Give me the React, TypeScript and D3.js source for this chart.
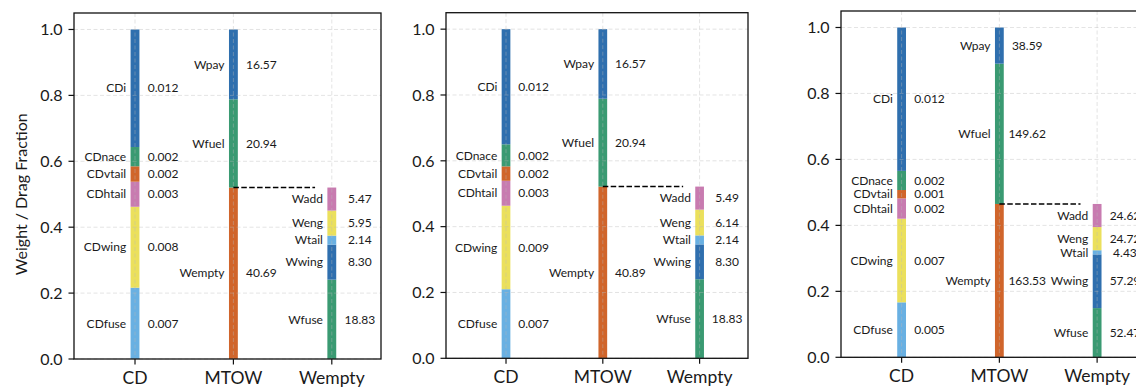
import * as d3 from "d3";

// categories on the x axis
const categories = ["CD", "MTOW", "Wempty"];
const yTicks = [0, 0.2, 0.4, 0.6, 0.8, 1.0];

// component names, bottom to top
const cdNames = ["CDfuse", "CDwing", "CDhtail", "CDvtail", "CDnace", "CDi"];
const mtowNames = ["Wempty", "Wfuel", "Wpay"];
const emptyNames = ["Wfuse", "Wwing", "Wtail", "Weng", "Wadd"];

// panel 1
const cdA = [0.0074, 0.0084, 0.0026, 0.0016, 0.002, 0.0122];
const mtowA = [40.69, 20.94, 16.57];
const emptyA = [18.83, 8.3, 2.14, 5.95, 5.47];
// panel 2
const cdB = [0.0072, 0.0087, 0.0026, 0.0015, 0.0023, 0.012];
const mtowB = [40.89, 20.94, 16.57];
const emptyB = [18.83, 8.3, 2.14, 6.14, 5.49];
// panel 3
const cdC = [0.0046, 0.007, 0.0017, 0.0007, 0.0016, 0.012];
const mtowC = [163.53, 149.62, 38.59];
const emptyC = [52.47, 57.29, 4.43, 24.72, 24.62];

const blue = "#2f6fae";
const green = "#3a9a72";
const orange = "#d0652b";
const pink = "#c87bb0";
const yellow = "#ebe05c";
const light = "#69b0e2";
const cdColors = [light, yellow, pink, orange, green, blue];
const mtowColors = [orange, green, blue];
const emptyColors = [green, blue, light, yellow, pink];

const FONT = "Lato, 'DejaVu Sans', sans-serif";

const panels = [
  { box: { l: 74, r: 381, t: 13, b: 359 }, cd: cdA, mtow: mtowA, empty: emptyA, ylabel: true },
  { box: { l: 446, r: 748, t: 12.7, b: 358.3 }, cd: cdB, mtow: mtowB, empty: emptyB, ylabel: false },
  { box: { l: 841, r: 1146, t: 11, b: 357.3 }, cd: cdC, mtow: mtowC, empty: emptyC, ylabel: false },
];

function segments(values: number[], total: number) {
  const ends = Array.from(d3.cumsum(values));
  return values.map((v, i) => ({ v, y0: (ends[i] - v) / total, y1: ends[i] / total }));
}

function Panel({ p }: { p: (typeof panels)[number] }) {
  const { l, r, t, b } = p.box;
  const x = d3.scaleLinear().domain([-0.62, 2.5]).range([l, r]);
  const y = d3.scaleLinear().domain([0, 1.05]).range([b, t]);
  const bw = x(0.09) - x(0);
  const mtowTotal = d3.sum(p.mtow);

  const stacks = [
    { names: cdNames, colors: cdColors, segs: segments(p.cd, d3.sum(p.cd)), fmt: d3.format(".3f") },
    { names: mtowNames, colors: mtowColors, segs: segments(p.mtow, mtowTotal), fmt: d3.format(".2f") },
    { names: emptyNames, colors: emptyColors, segs: segments(p.empty, mtowTotal), fmt: d3.format(".2f") },
  ];
  const emptyTop = d3.sum(p.empty) / mtowTotal;

  return (
    <g>
      {stacks.map((s, ci) =>
        s.segs.map((sg, k) => (
          <rect
            key={`${ci}-${k}`}
            x={x(ci) - bw / 2}
            width={bw}
            y={y(sg.y1)}
            height={y(sg.y0) - y(sg.y1)}
            fill={s.colors[k]}
          />
        ))
      )}
      {/* grid */}
      {categories.map((_, i) => (
        <line key={"gx" + i} x1={x(i)} x2={x(i)} y1={t} y2={b} stroke="#b8b8b8" strokeOpacity={0.5} strokeWidth={0.8} strokeDasharray="4,2.5" />
      ))}
      {yTicks.map((v) => (
        <line key={"gy" + v} x1={l} x2={r} y1={y(v)} y2={y(v)} stroke="#b8b8b8" strokeOpacity={0.5} strokeWidth={0.8} strokeDasharray="4,2.5" />
      ))}
      {/* dashed connector */}
      <line x1={x(1)} x2={x(1.83)} y1={y(emptyTop)} y2={y(emptyTop)} stroke="#000" strokeWidth={1.5} strokeDasharray="5.5,2.4" />
      {/* annotations */}
      {stacks.map((s, ci) =>
        s.segs.map((sg, k) => {
          const ym = y((sg.y0 + sg.y1) / 2);
          return (
            <g key={`t${ci}-${k}`} fontFamily={FONT} fontSize={12} fill="#1a1a1a">
              <text x={x(ci) - 0.09 * (x(1) - x(0))} y={ym} dy="0.35em" textAnchor="end">
                {s.names[k]}
              </text>
              <text x={x(ci) + 0.285 * (x(1) - x(0))} y={ym} dy="0.35em" textAnchor="middle">
                {s.fmt(sg.v)}
              </text>
            </g>
          );
        })
      )}
      {/* frame */}
      <rect x={l} y={t} width={r - l} height={b - t} fill="none" stroke="#111" strokeWidth={1.3} />
      {yTicks.map((v) => (
        <g key={"yt" + v}>
          <line x1={l - 5.5} x2={l} y1={y(v)} y2={y(v)} stroke="#111" strokeWidth={1.2} />
          <text x={l - 11.5} y={y(v)} dy="0.36em" textAnchor="end" fontFamily={FONT} fontSize={16} fill="#1a1a1a">
            {v.toFixed(1)}
          </text>
        </g>
      ))}
      {categories.map((c, i) => (
        <g key={"xt" + c}>
          <line x1={x(i)} x2={x(i)} y1={b} y2={b + 5.5} stroke="#111" strokeWidth={1.2} />
          <text x={x(i)} y={b + 24.5} textAnchor="middle" fontFamily={FONT} fontSize={17.5} fill="#1a1a1a">
            {c}
          </text>
        </g>
      ))}
      {p.ylabel && (
        <text
          transform={`translate(${l - 47},${(y(0) + y(1)) / 2}) rotate(-90)`}
          textAnchor="middle"
          fontFamily={FONT}
          fontSize={16}
          fill="#1a1a1a"
        >
          Weight / Drag Fraction
        </text>
      )}
    </g>
  );
}

export default function App() {
  return (
    <div style={{ position: "absolute", left: 0, top: 0 }}>
      <svg width={1136} height={388} style={{ display: "block", background: "#fff" }}>
        {panels.map((p, i) => (
          <Panel key={i} p={p} />
        ))}
      </svg>
    </div>
  );
}
